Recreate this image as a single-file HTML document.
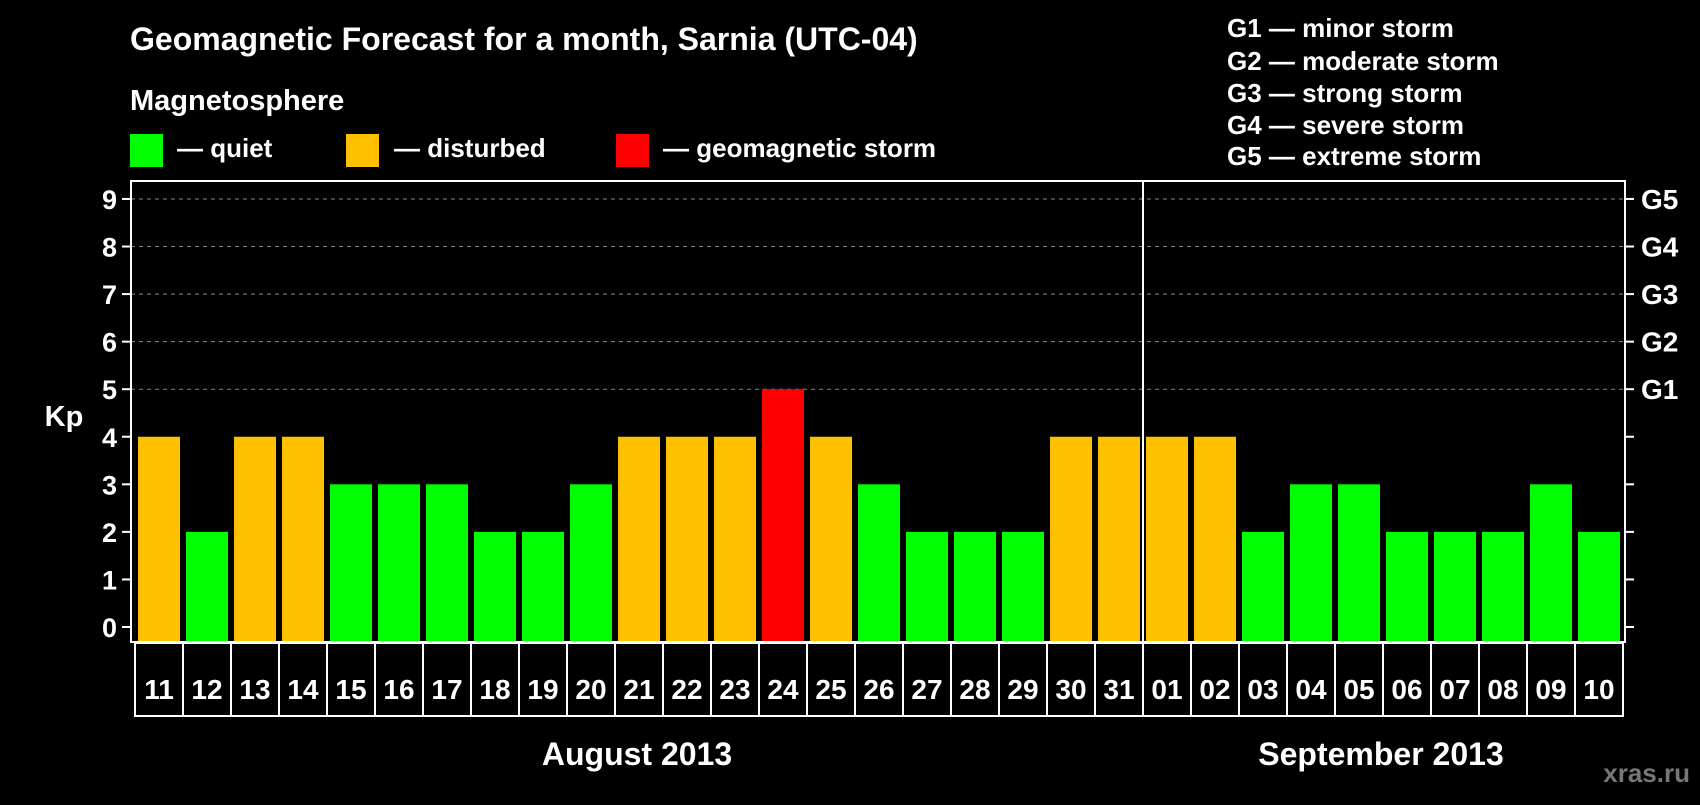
<!DOCTYPE html>
<html><head><meta charset="utf-8"><style>
body{margin:0;background:#000;width:1700px;height:800px;overflow:hidden}
svg text{font-family:"Liberation Sans",Arial,sans-serif;font-weight:bold;fill:#fff}
</style></head><body>
<svg width="1700" height="800" xmlns="http://www.w3.org/2000/svg">
<rect width="1700" height="800" fill="#000"/>
<text x="130" y="50" font-size="32">Geomagnetic Forecast for a month, Sarnia (UTC-04)</text>
<text x="130" y="110" font-size="29">Magnetosphere</text>
<g><rect x="130" y="134" width="33" height="33" fill="#00ff00"/><text x="177" y="157" font-size="26">— quiet</text></g>
<g><rect x="346" y="134" width="33" height="33" fill="#ffc000"/><text x="394" y="157" font-size="26">— disturbed</text></g>
<g><rect x="616" y="134" width="33" height="33" fill="#ff0000"/><text x="663" y="157" font-size="26">— geomagnetic storm</text></g>
<g font-size="26">
<text x="1227" y="37">G1 — minor storm</text>
<text x="1227" y="70">G2 — moderate storm</text>
<text x="1227" y="102">G3 — strong storm</text>
<text x="1227" y="134">G4 — severe storm</text>
<text x="1227" y="165">G5 — extreme storm</text>
</g>
<g id="chart"></g>
<text x="64" y="426" font-size="29" text-anchor="middle">Kp</text>
<text x="637" y="765" font-size="32" text-anchor="middle">August 2013</text>
<text x="1381" y="765" font-size="32" text-anchor="middle">September 2013</text>
<text x="1690" y="782" font-size="26" text-anchor="end" style="fill:#777">xras.ru</text>
</svg>
<script>
const days=["11","12","13","14","15","16","17","18","19","20","21","22","23","24","25","26","27","28","29","30","31","01","02","03","04","05","06","07","08","09","10"];
const kp=[4,2,4,4,3,3,3,2,2,3,4,4,4,5,4,3,2,2,2,4,4,4,4,2,3,3,2,2,2,3,2];
const yTicks=[0,1,2,3,4,5,6,7,8,9];
const gLabels=["G1","G2","G3","G4","G5"];
const NS="http://www.w3.org/2000/svg";
const g=document.getElementById('chart');
const L=131,R=1625,T=181,B=642,Y0=627,UNIT=47.56,STEP=48,BX=138,BW=42;
const y=v=>Y0-v*UNIT;
const x=i=>BX+i*STEP;
function mk(t,a){const e=document.createElementNS(NS,t);for(const k in a)e.setAttribute(k,a[k]);g.appendChild(e);return e;}
function col(v){return v>=5?"#ff0000":v>=4?"#ffc000":"#00ff00";}
yTicks.forEach(v=>{
 if(v>=5){const l=mk('line',{x1:L,x2:R,y1:y(v),y2:y(v),stroke:'#888','stroke-dasharray':'4,4','stroke-width':1});
 
 }
 const t1=mk('line',{x1:L-9,x2:L,y1:y(v),y2:y(v),stroke:'#fff','stroke-width':2});
 
 
 const t2=mk('line',{x1:R,x2:R+9,y1:y(v),y2:y(v),stroke:'#fff','stroke-width':2});
 
 
 const tx=mk('text',{x:L-14,y:y(v)+10,'font-size':27,'text-anchor':'end'});tx.textContent=v;
 
 
});
gLabels.forEach((s,i)=>{
 const t=mk('text',{x:R+16,y:y(5+i)+10,'font-size':28});t.textContent=s;
 
 
});
kp.forEach((v,i)=>{
 const r=mk('rect',{x:x(i),y:y(v),width:BW,height:B-y(v),fill:col(v)});
 
 
 const b=mk('rect',{x:x(i)-3,y:B+1,width:STEP,height:73,fill:'none',stroke:'#fff','stroke-width':2});
 
 
 const t=mk('text',{x:x(i)+BW/2,y:B+57,'font-size':28,'text-anchor':'middle'});t.textContent=days[i];
 
 
});
const f=mk('rect',{x:L,y:T,width:R-L,height:B-T,fill:'none',stroke:'#fff','stroke-width':2});


const dv=x(21)-3;
const d=mk('line',{x1:dv,x2:dv,y1:T,y2:B,stroke:'#fff','stroke-width':2});


</script>
</body></html>
